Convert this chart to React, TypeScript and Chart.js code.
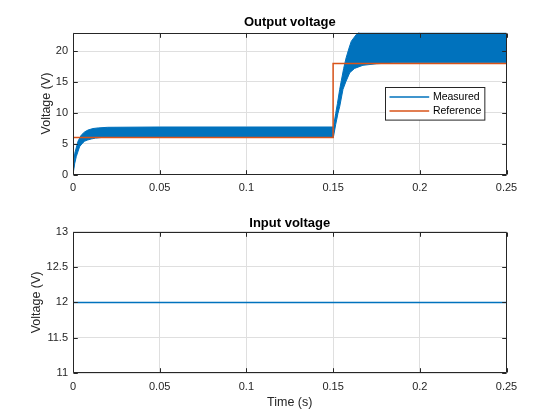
import React, { useEffect, useRef } from 'react';
import { Chart, registerables } from 'chart.js';

Chart.register(...registerables);

const FONT = "'Liberation Sans', Arial, Helvetica, sans-serif";
const BLUE = '#0072BD';
const RED = '#D95319';
const AXIS = '#262626';
const GRID = '#dfdfdf';

// Tick values and labels
const xTicks = [0, 0.05, 0.1, 0.15, 0.2, 0.25];
const xTickLabels = ['0', '0.05', '0.1', '0.15', '0.2', '0.25'];
const outYTicks = [0, 5, 10, 15, 20];
const outYTickLabels = ['0', '5', '10', '15', '20'];
const inYTicks = [11, 11.5, 12, 12.5, 13];
const inYTickLabels = ['11', '11.5', '12', '12.5', '13'];

// Measured output voltage: upper envelope of the ripple band
const tUpper = [0, 0.001, 0.0029, 0.0048, 0.0067, 0.0086, 0.0115, 0.0145, 0.02, 0.05, 0.1, 0.15,
  0.1505, 0.1515, 0.1525, 0.1538, 0.1548, 0.1561, 0.1575, 0.1592, 0.1605, 0.1634, 0.1663, 0.2, 0.25];
const vUpper = [0, 3.4, 5.4, 6.4, 6.9, 7.2, 7.45, 7.55, 7.65, 7.7, 7.7, 7.7,
  8.2, 9.9, 11.5, 13.8, 15.3, 17.2, 18.9, 20.5, 21.6, 22.7, 23.4, 23.6, 23.6];

// Measured output voltage: lower envelope of the ripple band
const tLower = [0, 0.001, 0.0019, 0.0038, 0.0052, 0.0067, 0.0085, 0.0105, 0.013, 0.0165, 0.05, 0.1, 0.15,
  0.1502, 0.1515, 0.1528, 0.1538, 0.1557, 0.1573, 0.1596, 0.1624, 0.1672, 0.175, 0.185, 0.2, 0.25];
const vLower = [0, 1.8, 2.9, 4.5, 5.0, 5.4, 5.6, 5.75, 5.9, 6.0, 6.0, 6.0, 6.0,
  6.1, 8.1, 9.9, 11.0, 13.8, 15.0, 16.5, 17.2, 17.7, 17.95, 18.1, 18.1, 18.1];

// Reference voltage
const tRef = [0, 0.15, 0.15, 0.25];
const vRef = [6, 6, 18, 18];

// Input voltage
const tInput = [0, 0.25];
const vInput = [12, 12];

const pts = (t: number[], v: number[]) => t.map((x, i) => ({ x, y: v[i] }));

const framePlugin = {
  id: 'matlabFrame',
  afterDatasetsDraw(chart: any) {
    const { ctx, chartArea: a, scales } = chart;
    const xs = scales.x;
    const ys = scales.y;
    const L = Math.round(a.left) + 0.5;
    const R = Math.round(a.right) - 0.5;
    const T = Math.round(a.top) + 0.5;
    const B = Math.round(a.bottom) - 0.5;
    const tl = 4.3;
    ctx.save();
    ctx.strokeStyle = AXIS;
    ctx.lineWidth = 1;
    ctx.beginPath();
    ctx.rect(L, T, R - L, B - T);
    xs.ticks.forEach((tk: any) => {
      const p = Math.round(xs.getPixelForValue(tk.value)) + 0.5;
      ctx.moveTo(p, B);
      ctx.lineTo(p, B - tl);
      ctx.moveTo(p, T);
      ctx.lineTo(p, T + tl);
    });
    ys.ticks.forEach((tk: any) => {
      const p = Math.round(ys.getPixelForValue(tk.value)) + 0.5;
      ctx.moveTo(L, p);
      ctx.lineTo(L + tl, p);
      ctx.moveTo(R, p);
      ctx.lineTo(R - tl, p);
    });
    ctx.stroke();
    ctx.restore();
  },
};

const boxLegendPlugin = {
  id: 'boxLegend',
  afterDraw(chart: any) {
    const opts = chart.options.plugins.boxLegend;
    if (!opts || !opts.display) return;
    const { ctx, chartArea: a } = chart;
    const items = chart.data.datasets.filter((d: any) => d.label);
    const fontSize = 10.5;
    ctx.save();
    ctx.font = `${fontSize}px ${FONT}`;
    const maxW = Math.max(...items.map((d: any) => ctx.measureText(d.label).width));
    const lineX0 = 4;
    const lineLen = 39.7;
    const textX = 47.4;
    const w = textX + maxW + 3.5;
    const rowH = 14;
    const h = 4.6 + rowH * items.length;
    const right = a.right - 22.5;
    const left = Math.round(right - w) + 0.5;
    const top = Math.round(a.top + 54.2) + 0.5;
    ctx.fillStyle = '#ffffff';
    ctx.fillRect(left, top, w, h);
    ctx.strokeStyle = AXIS;
    ctx.lineWidth = 1;
    ctx.strokeRect(left, top, w, h);
    items.forEach((d: any, i: number) => {
      const cy = top + 9.6 + i * rowH;
      ctx.strokeStyle = d.borderColor;
      ctx.lineWidth = 1.5;
      ctx.beginPath();
      ctx.moveTo(left + lineX0, cy);
      ctx.lineTo(left + lineX0 + lineLen, cy);
      ctx.stroke();
      ctx.fillStyle = '#000000';
      ctx.textBaseline = 'middle';
      ctx.textAlign = 'left';
      ctx.fillText(d.label, left + textX, cy + 0.5);
    });
    ctx.restore();
  },
};

function makeX(axisHeight: number, tickPad: number, showTitle: boolean, titlePadBottom: number) {
  return {
    type: 'linear',
    min: 0,
    max: 0.25,
    afterBuildTicks: (s: any) => {
      s.ticks = xTicks.map((v) => ({ value: v }));
    },
    afterFit: (s: any) => {
      s.height = axisHeight;
    },
    ticks: {
      autoSkip: false,
      maxRotation: 0,
      padding: tickPad,
      color: AXIS,
      font: { family: FONT, size: 11 },
      callback: (v: number) => {
        const i = xTicks.indexOf(v);
        return i >= 0 ? xTickLabels[i] : String(v);
      },
    },
    grid: { color: GRID, lineWidth: 1, drawTicks: false },
    border: { display: false },
    title: {
      display: showTitle,
      text: 'Time (s)',
      color: AXIS,
      font: { family: FONT, size: 12.5 },
      padding: { top: 0, bottom: titlePadBottom },
    },
  };
}

function makeY(min: number, max: number, ticks: number[], labels: string[], titlePadTop: number) {
  return {
    type: 'linear',
    min,
    max,
    afterBuildTicks: (s: any) => {
      s.ticks = ticks.map((v) => ({ value: v }));
    },
    afterFit: (s: any) => {
      s.width = 73;
    },
    ticks: {
      autoSkip: false,
      padding: 5,
      color: AXIS,
      font: { family: FONT, size: 11 },
      callback: (v: number) => {
        const i = ticks.indexOf(v);
        return i >= 0 ? labels[i] : String(v);
      },
    },
    grid: { color: GRID, lineWidth: 1, drawTicks: false },
    border: { display: false },
    title: {
      display: true,
      text: 'Voltage (V)',
      color: AXIS,
      font: { family: FONT, size: 12.5 },
      padding: { top: titlePadTop, bottom: 0 },
    },
  };
}

function makeTitle(text: string, padTop: number, padBottom: number) {
  return {
    display: true,
    text,
    fullSize: false,
    color: '#000000',
    font: { family: FONT, size: 13, weight: 'bold' },
    padding: { top: padTop, bottom: padBottom },
  };
}

export default function App() {
  const topRef = useRef<HTMLCanvasElement>(null);
  const botRef = useRef<HTMLCanvasElement>(null);

  useEffect(() => {
    const c1 = new Chart(topRef.current as HTMLCanvasElement, {
      type: 'line',
      data: {
        datasets: [
          {
            label: 'Measured',
            data: pts(tUpper, vUpper),
            borderColor: BLUE,
            backgroundColor: BLUE,
            borderWidth: 1,
            pointRadius: 0,
            fill: '+1',
            tension: 0,
            order: 1,
          },
          {
            label: '',
            data: pts(tLower, vLower),
            borderColor: BLUE,
            backgroundColor: BLUE,
            borderWidth: 1,
            pointRadius: 0,
            fill: false,
            tension: 0,
            order: 2,
          },
          {
            label: 'Reference',
            data: pts(tRef, vRef),
            borderColor: RED,
            backgroundColor: RED,
            borderWidth: 1.5,
            pointRadius: 0,
            fill: false,
            tension: 0,
            order: 0,
          },
        ],
      } as any,
      options: {
        responsive: false,
        animation: false,
        events: [],
        layout: { padding: { left: 0, right: 53.5, top: 0, bottom: 0 } },
        scales: {
          x: makeX(30.5, 6.8, false, 0),
          y: makeY(0, 23, outYTicks, outYTickLabels, 39),
        } as any,
        plugins: {
          legend: { display: false },
          tooltip: { enabled: false },
          title: makeTitle('Output voltage', 15, 2),
          boxLegend: { display: true },
        } as any,
      },
      plugins: [framePlugin, boxLegendPlugin],
    });

    const c2 = new Chart(botRef.current as HTMLCanvasElement, {
      type: 'line',
      data: {
        datasets: [
          {
            label: 'Input',
            data: pts(tInput, vInput),
            borderColor: BLUE,
            backgroundColor: BLUE,
            borderWidth: 1.5,
            pointRadius: 0,
            fill: false,
            tension: 0,
          },
        ],
      } as any,
      options: {
        responsive: false,
        animation: false,
        events: [],
        layout: { padding: { left: 0, right: 53.5, top: 0, bottom: 0 } },
        scales: {
          x: makeX(46.7, 7, true, 9.8),
          y: makeY(11, 13, inYTicks, inYTickLabels, 29.5),
        } as any,
        plugins: {
          legend: { display: false },
          tooltip: { enabled: false },
          title: makeTitle('Input voltage', 10.2, 0.7),
        } as any,
      },
      plugins: [framePlugin],
    });

    return () => {
      c1.destroy();
      c2.destroy();
    };
  }, []);

  return (
    <div style={{ position: 'absolute', left: 0, top: 0, width: 560, height: 420, background: '#ffffff' }}>
      <canvas
        ref={topRef}
        width={560}
        height={205}
        style={{ position: 'absolute', left: 0, top: 0, width: 560, height: 205 }}
      />
      <canvas
        ref={botRef}
        width={560}
        height={215}
        style={{ position: 'absolute', left: 0, top: 205, width: 560, height: 215 }}
      />
    </div>
  );
}
